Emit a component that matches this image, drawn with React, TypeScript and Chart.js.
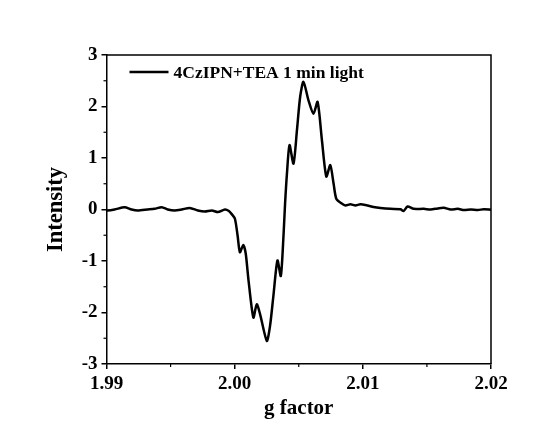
import React, { useEffect, useRef } from 'react';
import { Chart, registerables } from 'chart.js';

Chart.register(...registerables);

// ---- data ----
const seriesLabel = '4CzIPN+TEA 1 min light';
const xAxisTitle = 'g factor';
const yAxisTitle = 'Intensity';

const gFactor = [
  1.99, 1.99008, 1.99063, 1.99141, 1.99196, 1.99243, 1.99321, 1.99376, 1.99431, 1.99478,
  1.99532, 1.99587, 1.9965, 1.99713, 1.99767, 1.99822, 1.99869, 1.99924, 1.99955, 1.99977,
  2.00002, 2.00023, 2.00041, 2.00067, 2.00086, 2.00107, 2.00146, 2.00172, 2.00198, 2.00251,
  2.00276, 2.00302, 2.00334, 2.0036, 2.00381, 2.00393, 2.00408, 2.00428, 2.00459, 2.00486,
  2.00511, 2.00537, 2.00576, 2.00615, 2.00647, 2.00681, 2.00715, 2.00746, 2.00772, 2.00793,
  2.00838, 2.00864, 2.00903, 2.00942, 2.00981, 2.01036, 2.01083, 2.01138, 2.01216, 2.01294,
  2.01318, 2.01349, 2.01396, 2.01475, 2.01529, 2.01584, 2.01631, 2.01686, 2.01741, 2.01788,
  2.01843, 2.01897, 2.01944, 2.02,
];
const intensity = [
  -0.01, -0.02, 0.0, 0.045, 0.0, -0.02, 0.0, 0.015, 0.045, 0.0,
  -0.02, 0.0, 0.03, -0.02, -0.04, -0.02, -0.05, 0.0, -0.03, -0.09,
  -0.18, -0.51, -0.83, -0.69, -0.85, -1.35, -2.1, -1.84, -2.03, -2.55,
  -2.26, -1.68, -0.99, -1.29, -0.51, 0.1, 0.7, 1.25, 0.89, 1.54,
  2.19, 2.48, 2.12, 1.86, 2.09, 1.34, 0.64, 0.86, 0.5, 0.21,
  0.11, 0.08, 0.1, 0.08, 0.1, 0.078, 0.05, 0.03, 0.013, 0.005,
  -0.03, 0.06, 0.013, 0.013, 0.0, 0.02, 0.033, 0.0, 0.013, -0.01,
  0.0, -0.01, 0.005, -0.005,
];

const xMajorTicks = [1.99, 2.0, 2.01, 2.02];
const xMinorTicks = [1.995, 2.005, 2.015];
const yMajorTicks = [-3, -2, -1, 0, 1, 2, 3];
const yMinorTicks = [-2.5, -1.5, -0.5, 0.5, 1.5, 2.5];

const FONT = "'Liberation Serif', 'Times New Roman', serif";

const decorPlugin = {
  id: 'decor',
  beforeDraw(chart: any) {
    const { ctx, width, height } = chart;
    ctx.save();
    ctx.fillStyle = '#ffffff';
    ctx.fillRect(0, 0, width, height);
    ctx.restore();
  },
  afterDraw(chart: any) {
    const { ctx, chartArea: a, scales } = chart;
    ctx.save();
    ctx.strokeStyle = '#000';
    ctx.lineWidth = 1.5;
    // frame (top and right sides)
    ctx.beginPath();
    ctx.moveTo(a.left, a.top);
    ctx.lineTo(a.right, a.top);
    ctx.lineTo(a.right, a.bottom);
    ctx.stroke();
    // minor ticks
    ctx.lineWidth = 1.2;
    xMinorTicks.forEach((v) => {
      const px = scales.x.getPixelForValue(v);
      ctx.beginPath();
      ctx.moveTo(px, a.bottom);
      ctx.lineTo(px, a.bottom + 3);
      ctx.stroke();
    });
    yMinorTicks.forEach((v) => {
      const py = scales.y.getPixelForValue(v);
      ctx.beginPath();
      ctx.moveTo(a.left, py);
      ctx.lineTo(a.left - 3, py);
      ctx.stroke();
    });
    // legend
    const ly = a.top + 17;
    const lx = a.left + 23;
    ctx.lineWidth = 2.5;
    ctx.beginPath();
    ctx.moveTo(lx, ly);
    ctx.lineTo(lx + 39, ly);
    ctx.stroke();
    ctx.fillStyle = '#000';
    ctx.font = `bold 17.5px ${FONT}`;
    ctx.textBaseline = 'middle';
    ctx.textAlign = 'left';
    ctx.fillText(seriesLabel, lx + 44, ly + 1);
    ctx.restore();
  },
};

export default function App() {
  const ref = useRef<HTMLCanvasElement | null>(null);

  useEffect(() => {
    if (!ref.current) return;
    const points = gFactor.map((g, i) => ({ x: g, y: intensity[i] }));
    const chart = new Chart(ref.current, {
      type: 'line',
      data: {
        datasets: [
          {
            label: seriesLabel,
            data: points,
            borderColor: '#000',
            backgroundColor: '#000',
            borderWidth: 2.5,
            pointRadius: 0,
            tension: 0.25,
            fill: false,
          },
        ],
      },
      options: {
        responsive: false,
        animation: false,
        devicePixelRatio: 1,
        layout: { padding: { left: 39, top: 55, right: 67, bottom: 0 } },
        plugins: {
          legend: { display: false },
          tooltip: { enabled: false },
        },
        scales: {
          x: {
            type: 'linear',
            min: 1.99,
            max: 2.02,
            afterBuildTicks: (s: any) => {
              s.ticks = xMajorTicks.map((v) => ({ value: v }));
            },
            afterFit: (s: any) => {
              s.height = 61;
            },
            grid: {
              display: true,
              drawOnChartArea: false,
              drawTicks: true,
              tickLength: 5,
              color: '#000',
              lineWidth: 1.5,
            },
            border: { display: true, color: '#000', width: 1.5 },
            ticks: {
              color: '#000',
              padding: 4,
              maxRotation: 0,
              autoSkip: false,
              font: { family: FONT, size: 19, weight: 'bold' },
              callback: (v: any) => Number(v).toFixed(2),
            },
            title: {
              display: true,
              text: xAxisTitle,
              color: '#000',
              font: { family: FONT, size: 21, weight: 'bold' },
            },
          },
          y: {
            type: 'linear',
            min: -3,
            max: 3,
            afterBuildTicks: (s: any) => {
              s.ticks = yMajorTicks.map((v) => ({ value: v }));
            },
            afterFit: (s: any) => {
              s.width = 67.5;
            },
            grid: {
              display: true,
              drawOnChartArea: false,
              drawTicks: true,
              tickLength: 5,
              color: '#000',
              lineWidth: 1.5,
            },
            border: { display: true, color: '#000', width: 1.5 },
            ticks: {
              color: '#000',
              padding: 4,
              autoSkip: false,
              font: { family: FONT, size: 19, weight: 'bold' },
              callback: (v: any) => String(v),
            },
            title: {
              display: true,
              text: yAxisTitle,
              color: '#000',
              font: { family: FONT, size: 22.5, weight: 'bold' },
            },
          },
        },
      },
      plugins: [decorPlugin],
    });
    return () => chart.destroy();
  }, []);

  return (
    <div style={{ position: 'absolute', left: 0, top: 0, width: 558, height: 425 }}>
      <canvas ref={ref} width={558} height={425} style={{ display: 'block' }} />
    </div>
  );
}
